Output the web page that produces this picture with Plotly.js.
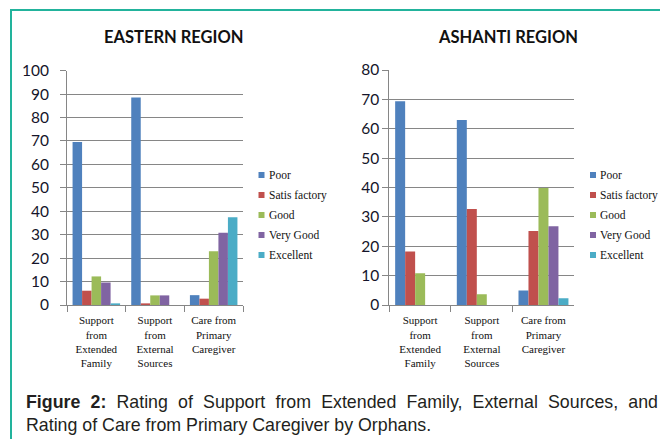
<!DOCTYPE html>
<html><head><meta charset="utf-8">
<script src="https://cdn.plot.ly/plotly-3.0.1.min.js"></script>
<style>
html,body{margin:0;padding:0;background:#fff;}
#wrap{position:relative;width:660px;height:439px;overflow:hidden;background:#fff;}
#chart{position:absolute;left:0;top:0;width:660px;height:439px;}
#frame{position:absolute;left:10px;top:9px;width:660px;height:440px;border-left:2px solid #22b39c;border-top:2px solid #22b39c;pointer-events:none;}
#cap{position:absolute;left:26px;top:391px;width:632px;font-family:"Liberation Sans",Arial,sans-serif;font-size:17.8px;line-height:22.5px;color:#231f20;}
#cap .l1{text-align:justify;text-align-last:justify;}
#cap .l2{text-align:left;}
</style></head>
<body>
<div id="wrap">
<div id="chart"></div>
<div id="frame"></div>
<div id="cap"><div class="l1"><b>Figure 2:</b> Rating of Support from Extended Family, External Sources, and</div><div class="l2">Rating of Care from Primary Caregiver by Orphans.</div></div>
</div>
<script>
const categories = ["Support from Extended Family", "Support from External Sources", "Care from Primary Caregiver"];
const tickLabels = ["Support<br>from<br>Extended<br>Family", "Support<br>from<br>External<br>Sources", "Care from<br>Primary<br>Caregiver"];
const seriesNames = ["Poor", "Satis factory", "Good", "Very Good", "Excellent"];
const seriesColors = ["#4F81BD", "#C0504D", "#9BBB59", "#8064A2", "#4BACC6"];
const regionTitles = ["EASTERN REGION", "ASHANTI REGION"];

const easternPoor = [69.6, 88.6, 4.2];
const easternSatisfactory = [6.1, 0.7, 2.7];
const easternGood = [12.2, 4.1, 22.9];
const easternVeryGood = [9.6, 4.1, 30.8];
const easternExcellent = [0.7, 0, 37.5];

const ashantiPoor = [69.4, 63.0, 4.9];
const ashantiSatisfactory = [18.2, 32.7, 25.2];
const ashantiGood = [10.8, 3.7, 39.8];
const ashantiVeryGood = [0, 0, 26.8];
const ashantiExcellent = [0, 0, 2.3];

const easternSeries = [easternPoor, easternSatisfactory, easternGood, easternVeryGood, easternExcellent];
const ashantiSeries = [ashantiPoor, ashantiSatisfactory, ashantiGood, ashantiVeryGood, ashantiExcellent];

const W = 660, H = 439;
const px = v => v / W;
const py = v => (H - v) / H;

const traces = [];
easternSeries.forEach((vals, i) => traces.push({
  type: "bar", x: categories, y: vals, name: seriesNames[i], xaxis: "x", yaxis: "y",
  marker: {color: seriesColors[i]}, showlegend: false, hoverinfo: "none"
}));
ashantiSeries.forEach((vals, i) => traces.push({
  type: "bar", x: categories, y: vals, name: seriesNames[i], xaxis: "x2", yaxis: "y2",
  marker: {color: seriesColors[i]}, showlegend: false, hoverinfo: "none"
}));

const gridC = "#868686";
function xAxis(domain, anchor) {
  return {
    domain: domain, anchor: anchor, type: "category", categoryorder: "array", categoryarray: categories,
    tickvals: categories, ticktext: tickLabels, tickson: "boundaries",
    ticks: "outside", ticklen: 6, tickcolor: gridC, showgrid: false,
    showline: true, linecolor: gridC, linewidth: 1, ticklabelstandoff: 5,
    tickfont: {family: "Liberation Serif, Times New Roman, serif", size: 11, color: "#111"},
    fixedrange: true
  };
}
function yAxis(domain, anchor, max, standoff) {
  return {
    domain: domain, anchor: anchor, range: [0, max], dtick: 10, tick0: 0,
    ticks: "outside", ticklen: 6, tickcolor: gridC,
    showgrid: true, gridcolor: gridC, gridwidth: 1, zeroline: false,
    showline: true, linecolor: gridC, linewidth: 1, ticklabelstandoff: standoff,
    tickfont: {family: "Lato, Carlito, Calibri, sans-serif", size: 15.5, color: "#15152a"},
    fixedrange: true
  };
}

const annotations = [];
const shapes = [];
const titleX = [174, 507.5];
titleX.forEach((x, k) => annotations.push({
  xref: "paper", yref: "paper", x: px(x), y: py(37.5), xanchor: "center", yanchor: "middle",
  text: "<b>" + regionTitles[k] + "</b>", showarrow: false,
  font: {family: "Lato, Carlito, Calibri, sans-serif", size: 16.5, color: "#111"}
}));

// legends (one per region)
const legendBoxX = [258.5, 590];
const legendRowY = [175, 195, 215, 235, 255];
legendBoxX.forEach(bx => {
  seriesNames.forEach((nm, i) => {
    shapes.push({type: "rect", xref: "paper", yref: "paper",
      x0: px(bx), x1: px(bx + 6), y0: py(legendRowY[i] + 3), y1: py(legendRowY[i] - 3),
      fillcolor: seriesColors[i], line: {width: 0}});
    annotations.push({xref: "paper", yref: "paper", x: px(bx + 8), y: py(legendRowY[i]),
      xanchor: "left", yanchor: "middle", showarrow: false, text: nm,
      font: {family: "Liberation Serif, Times New Roman, serif", size: 11.5, color: "#111"}});
  });
});

const layout = {
  width: W, height: H, margin: {l: 0, r: 0, t: 0, b: 0},
  paper_bgcolor: "rgba(0,0,0,0)", plot_bgcolor: "#fff",
  barmode: "group", bargap: 0.19, bargroupgap: 0,
  showlegend: false,
  xaxis: xAxis([px(67), px(243)], "y"),
  yaxis: yAxis([py(305), py(70.7)], "x", 100, 8),
  xaxis2: xAxis([px(389.3), px(574.3)], "y2"),
  yaxis2: yAxis([py(305), py(70)], "x2", 80, 0),
  annotations: annotations, shapes: shapes
};
Plotly.newPlot("chart", traces, layout, {staticPlot: true, displayModeBar: false});
</script>
</body></html>
